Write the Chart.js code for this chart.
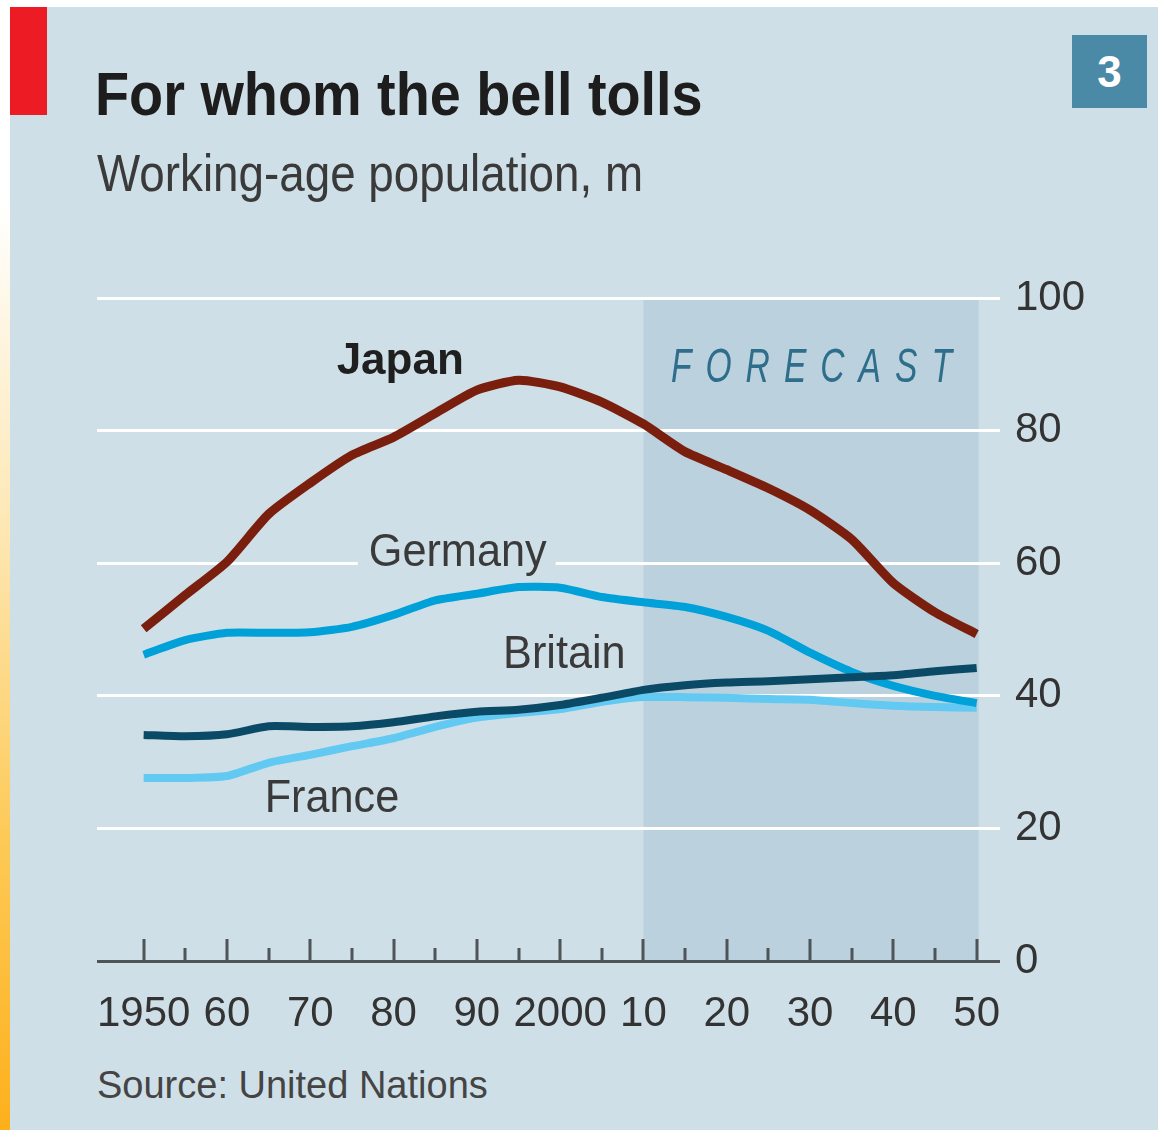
<!DOCTYPE html>
<html>
<head>
<meta charset="utf-8">
<title>For whom the bell tolls</title>
<script src="https://cdn.jsdelivr.net/npm/chart.js@4.4.0/dist/chart.umd.min.js"></script>
<style>
  html, body { margin: 0; padding: 0; background: #fff; }
  body {
    width: 1158px; height: 1130px; position: relative; overflow: hidden;
    font-family: 'Liberation Sans', Arial, sans-serif;
  }
  .strip {
    position: absolute; left: 0; top: 0; width: 10px; height: 1130px;
    background: linear-gradient(to bottom, #fff 0%, #fff 18%, #fde6b0 48%, #fdc955 75%, #fdb01c 100%);
  }
  .panel { position: absolute; left: 10px; top: 7px; right: 0; bottom: 0; background: #cfdfe7; }
  .redbar { position: absolute; left: 10px; top: 7px; width: 37px; height: 108px; background: #ec1b24; }
  .title, .subtitle, .source { position: absolute; white-space: nowrap; line-height: 1; transform-origin: left top; }
  .title { left: 95px; top: 63px; font-size: 62px; font-weight: bold; color: #1d1d1d; transform: scaleX(0.9); }
  .subtitle { left: 97px; top: 147px; font-size: 52px; color: #3a3a3a; transform: scaleX(0.88); }
  .source { left: 97px; top: 1066px; font-size: 38px; color: #444; }
  .badge {
    position: absolute; left: 1072px; top: 35px; width: 75px; height: 73px;
    background: #4a8aa6; color: #fff; font-size: 44px; font-weight: bold;
    display: flex; align-items: center; justify-content: center;
  }
  canvas { position: absolute; left: 0; top: 0; }
</style>
</head>
<body>
<div class="strip"></div>
<div class="panel"></div>
<div class="redbar"></div>
<div class="title">For whom the bell tolls</div>
<div class="subtitle">Working-age population, m</div>
<div class="badge">3</div>
<div class="source">Source: United Nations</div>
<canvas id="chart" width="1158" height="1130"></canvas>

<script>
// Data, millions
const years = [1950, 1955, 1960, 1965, 1970, 1975, 1980, 1985, 1990, 1995, 2000,
               2005, 2010, 2015, 2020, 2025, 2030, 2035, 2040, 2045, 2050];
const japan = [50.1, 55.2, 60.2, 67.4, 72.1, 76.3, 79.0, 82.6, 86.1, 87.6, 86.6,
               84.3, 81.0, 76.8, 74.1, 71.3, 68.0, 63.6, 57.0, 52.6, 49.3];
const germany = [46.2, 48.4, 49.5, 49.5, 49.6, 50.4, 52.2, 54.4, 55.4, 56.4, 56.3,
                 54.9, 54.1, 53.4, 51.9, 49.8, 46.5, 43.6, 41.5, 40.0, 38.9];
const britain = [34.1, 33.9, 34.2, 35.4, 35.3, 35.4, 36.0, 36.9, 37.6, 37.9, 38.6,
                 39.7, 40.9, 41.6, 42.0, 42.2, 42.5, 42.8, 43.1, 43.7, 44.2];
const france = [27.6, 27.6, 27.9, 29.9, 31.1, 32.4, 33.6, 35.3, 36.7, 37.4, 38.0,
                39.1, 39.8, 39.8, 39.7, 39.5, 39.4, 38.9, 38.5, 38.3, 38.2];

// Axes
const xTicks = [1950, 1960, 1970, 1980, 1990, 2000, 2010, 2020, 2030, 2040, 2050];
const xTickLabels = ['1950', '60', '70', '80', '90', '2000', '10', '20', '30', '40', '50'];
const xMinorTicks = [1955, 1965, 1975, 1985, 1995, 2005, 2015, 2025, 2035, 2045];
const yTicks = [0, 20, 40, 60, 80, 100];
const forecastFrom = 2010;
const forecastTo = 2050;

const FONT = "'Liberation Sans', Arial, sans-serif";
const PANEL_BG = '#cfdfe7';

// Series labels, placed in data coordinates (year, value) at their baseline centre
const seriesLabels = [
    { text: 'Japan', year: 1980.8, value: 88.6, bold: true, color: '#1f1f1f' },
    { text: 'Germany', year: 1987.7, value: 59.6, color: '#3a3a3a', knockout: true },
    { text: 'Britain', year: 2000.5, value: 44.2, color: '#3a3a3a' },
    { text: 'France', year: 1972.6, value: 22.5, color: '#3a3a3a' }
];

function toPoints(values) {
    return years.map((yr, i) => ({ x: yr, y: values[i] }));
}

const decorPlugin = {
    id: 'decor',
    beforeDraw(chart) {
        // forecast shading, under the grid
        const { ctx, scales: { x, y } } = chart;
        const left = x.getPixelForValue(forecastFrom);
        const right = x.getPixelForValue(forecastTo);
        const top = y.getPixelForValue(100);
        const bottom = y.getPixelForValue(0);
        ctx.save();
        ctx.fillStyle = '#bbd2de';
        ctx.fillRect(left, top, right - left + 2, bottom - top);
        ctx.restore();
    },
    afterDatasetsDraw(chart) {
        const { ctx, scales: { x, y } } = chart;
        ctx.save();
        ctx.textBaseline = 'alphabetic';
        ctx.textAlign = 'center';

        seriesLabels.forEach(lbl => {
            const px = x.getPixelForValue(lbl.year);
            const py = y.getPixelForValue(lbl.value);
            ctx.font = (lbl.bold ? 'bold 44px ' : '46px ') + FONT;
            const sx = lbl.bold ? 1 : 0.94;
            const w = ctx.measureText(lbl.text).width * sx;
            if (lbl.knockout) {
                ctx.fillStyle = PANEL_BG;
                ctx.fillRect(px - w / 2 - 11, py - 38, w + 20, 50);
            }
            ctx.save();
            ctx.translate(px, py);
            ctx.scale(sx, 1);
            ctx.fillStyle = lbl.color;
            ctx.fillText(lbl.text, 0, 0);
            ctx.restore();
        });

        // FORECAST
        ctx.save();
        ctx.translate(x.getPixelForValue(2013.3), y.getPixelForValue(87.4));
        ctx.scale(0.7, 1);
        ctx.font = 'italic 48px ' + FONT;
        ctx.letterSpacing = '20px';
        ctx.textAlign = 'left';
        ctx.fillStyle = '#2f6e8b';
        ctx.fillText('FORECAST', 0, 0);
        ctx.restore();

        ctx.restore();
    },
    afterDraw(chart) {
        // tick marks standing up from the baseline
        const { ctx, scales: { x, y } } = chart;
        const base = y.getPixelForValue(0);
        ctx.save();
        ctx.strokeStyle = '#4f5459';
        ctx.lineWidth = 3;
        ctx.beginPath();
        xTicks.forEach(v => {
            const px = Math.round(x.getPixelForValue(v));
            ctx.moveTo(px, base);
            ctx.lineTo(px, base - 22);
        });
        xMinorTicks.forEach(v => {
            const px = Math.round(x.getPixelForValue(v));
            ctx.moveTo(px, base);
            ctx.lineTo(px, base - 13);
        });
        ctx.stroke();
        ctx.restore();
    }
};

const lineDefaults = {
    pointRadius: 0,
    tension: 0.2,
    borderCapStyle: 'butt',
    borderJoinStyle: 'round',
    fill: false
};

new Chart(document.getElementById('chart'), {
    type: 'line',
    data: {
        datasets: [
            { ...lineDefaults, label: 'Japan', data: toPoints(japan), borderColor: '#7a1f0d', borderWidth: 9 },
            { ...lineDefaults, label: 'Britain', data: toPoints(britain), borderColor: '#0b4a67', borderWidth: 8 },
            { ...lineDefaults, label: 'Germany', data: toPoints(germany), borderColor: '#00a0d9', borderWidth: 8 },
            { ...lineDefaults, label: 'France', data: toPoints(france), borderColor: '#62c9f2', borderWidth: 8 }
        ]
    },
    options: {
        responsive: false,
        animation: false,
        devicePixelRatio: 1,
        layout: { padding: { left: 97, top: 298, right: 0, bottom: 0 } },
        plugins: {
            legend: { display: false },
            tooltip: { enabled: false }
        },
        scales: {
            x: {
                type: 'linear',
                position: 'bottom',
                min: 1944.4,
                max: 2052.8,
                afterBuildTicks: s => { s.ticks = xTicks.map(v => ({ value: v })); },
                afterFit: s => { s.height = 169; },
                grid: { display: false, drawTicks: false },
                border: { display: false },
                ticks: {
                    autoSkip: false,
                    maxRotation: 0,
                    padding: 28,
                    color: '#333',
                    font: { family: FONT, size: 42 },
                    callback: v => {
                        const i = xTicks.indexOf(v);
                        return i >= 0 ? xTickLabels[i] : '';
                    }
                }
            },
            y: {
                position: 'right',
                min: 0,
                max: 100,
                afterBuildTicks: s => { s.ticks = yTicks.map(v => ({ value: v })); },
                afterFit: s => { s.width = 158; },
                grid: {
                    drawTicks: false,
                    lineWidth: 3,
                    color: c => (c.tick && c.tick.value === 0 ? '#4f5459' : '#ffffff')
                },
                border: { display: false },
                ticks: {
                    padding: 15,
                    color: '#333',
                    font: { family: FONT, size: 42 }
                }
            }
        }
    },
    plugins: [decorPlugin]
});
</script>
</body>
</html>
